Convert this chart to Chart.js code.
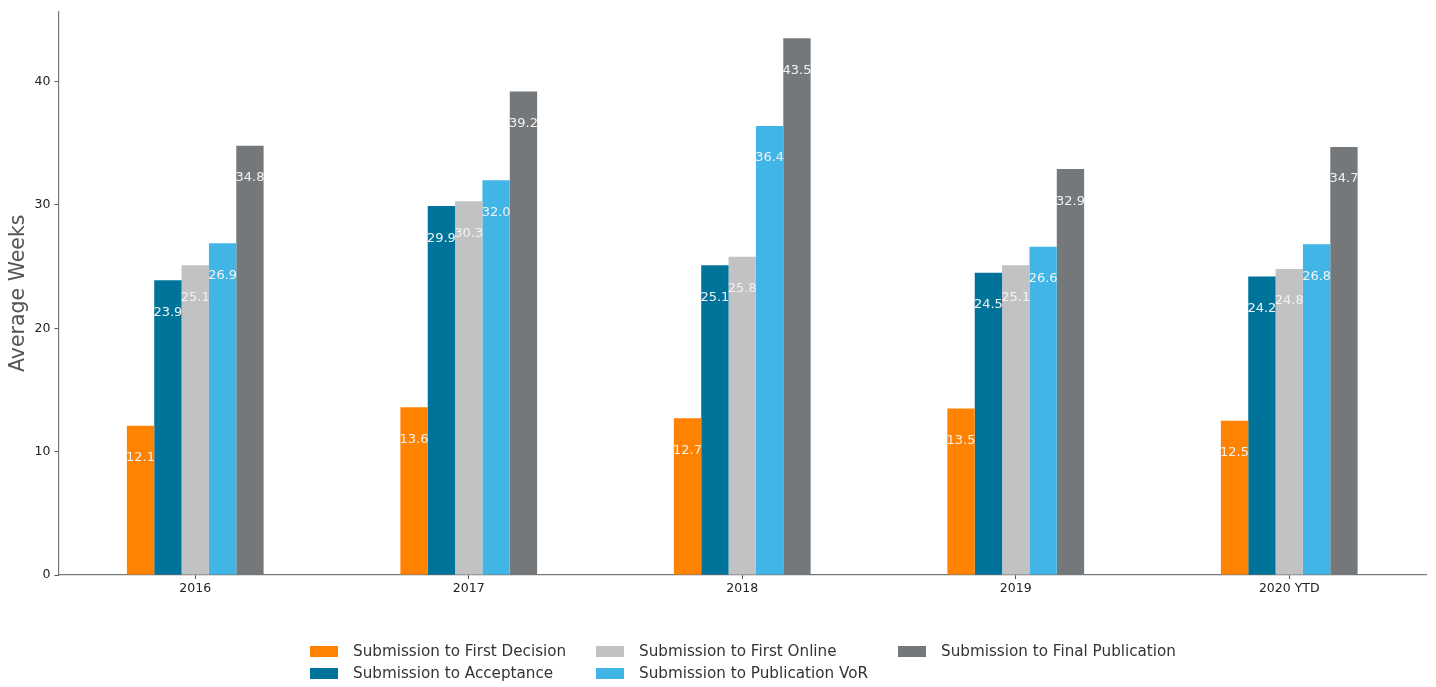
<!DOCTYPE html>
<html>
<head>
<meta charset="utf-8">
<script src="https://cdn.jsdelivr.net/npm/chart.js@4"></script>
<style>
  html, body { margin: 0; padding: 0; background: #fff; }
  #wrap { position: relative; width: 1436px; height: 687px; }
  #legend {
    position: absolute; left: 310px; top: 640px;
    display: grid; grid-auto-flow: column; grid-template-rows: 22px 22px;
    grid-template-columns: 286px 302px auto;
    font-family: 'DejaVu Sans', sans-serif; font-size: 15.2px; color: #333;
  }
  #legend .item { display: flex; align-items: center; white-space: nowrap; }
  #legend .box { width: 28px; height: 11px; margin-right: 15px; }
</style>
</head>
<body>
<div id="wrap">
  <canvas id="canva" width="1436" height="687"></canvas>
  <div id="legend"></div>
</div>
<script>
const years = ['2016', '2017', '2018', '2019', '2020 YTD'];
const seriesNames = [
    'Submission to First Decision',
    'Submission to Acceptance',
    'Submission to First Online',
    'Submission to Publication VoR',
    'Submission to Final Publication',
];
const firstDecision = [12.1, 13.6, 12.7, 13.5, 12.5];
const acceptance = [23.9, 29.9, 25.1, 24.5, 24.2];
const firstOnline = [25.1, 30.3, 25.8, 25.1, 24.8];
const publicationVoR = [26.9, 32.0, 36.4, 26.6, 26.8];
const finalPublication = [34.8, 39.2, 43.5, 32.9, 34.7];
const yTicks = [0, 10, 20, 30, 40];

const colors = ['#FF8200', '#00739A', '#C1C2C4', '#41B6E6', '#75787B'];
const values = [firstDecision, acceptance, firstOnline, publicationVoR, finalPublication];

// value labels drawn inside the top of each bar
const barLabels = {
    id: 'barLabels',
    afterDatasetsDraw(chart) {
        const ctx = chart.ctx;
        const y = chart.scales.y;
        ctx.save();
        ctx.font = '13px "DejaVu Sans"';
        ctx.fillStyle = '#f2f2f2';
        ctx.textAlign = 'center';
        ctx.textBaseline = 'middle';
        chart.data.datasets.forEach((ds, i) => {
            chart.getDatasetMeta(i).data.forEach((bar, j) => {
                const v = ds.data[j];
                ctx.fillText(v.toFixed(1), bar.x, y.getPixelForValue(v - 2.6));
            });
        });
        ctx.restore();
    },
};

const chart = new Chart(document.getElementById('canva'), {
    type: 'bar',
    data: {
        labels: years,
        datasets: values.map((data, i) => ({
            label: seriesNames[i],
            data: data,
            backgroundColor: colors[i],
            categoryPercentage: 0.5,
            barPercentage: 1.0,
        })),
    },
    options: {
        responsive: false,
        animation: false,
        layout: { padding: { top: 8, right: 10, bottom: 89, left: 6 } },
        plugins: {
            legend: { display: false },
            tooltip: { enabled: false },
        },
        scales: {
            x: {
                grid: { display: true, offset: false, drawOnChartArea: false, drawTicks: true, tickLength: 4, color: '#555' },
                border: { display: true, color: '#777', width: 1.2 },
                ticks: { color: '#222', font: { family: 'DejaVu Sans', size: 12.5 }, padding: 2 },
            },
            y: {
                min: 0,
                max: 45.675,
                afterBuildTicks: (axis) => { axis.ticks = yTicks.map((v) => ({ value: v })); },
                grid: { display: true, drawOnChartArea: false, drawTicks: true, tickLength: 4, color: '#555' },
                border: { display: true, color: '#777', width: 1.2 },
                ticks: { color: '#222', font: { family: 'DejaVu Sans', size: 12.5 }, padding: 4 },
                title: {
                    display: true,
                    text: 'Average Weeks',
                    color: '#555',
                    font: { family: 'DejaVu Sans', size: 20.5 },
                    padding: { top: 0, bottom: 0 },
                },
            },
        },
    },
    plugins: [barLabels],
});

// legend in three columns, filled column by column
const legend = document.getElementById('legend');
chart.data.datasets.forEach((ds) => {
    const item = document.createElement('div');
    item.className = 'item';
    item.innerHTML = '<span class="box" style="background:' + ds.backgroundColor + '"></span>' + ds.label;
    legend.appendChild(item);
});
</script>
</body>
</html>
